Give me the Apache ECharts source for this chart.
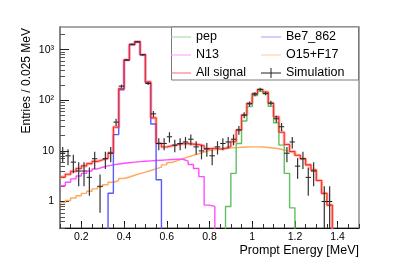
<!DOCTYPE html>
<html><head><meta charset="utf-8">
<script src="https://cdn.jsdelivr.net/npm/echarts@6/dist/echarts.min.js"></script>
<style>html,body{margin:0;padding:0;background:#fff}#c{width:399px;height:269px}</style>
</head><body><div id="c"></div>
<script>
// ---- histogram binning (Prompt Energy, MeV) ----
const binStart = 0.1;
const binWidth = 0.025;

// ---- series values per bin (56 bins from 0.1 to 1.5 MeV), 0 = empty bin ----
const pep = [0,0,0,0,0,0,0,0,0,0, 0,0,0,0,0,0,0,0,0,0, 0,0,0,0,0,0,0,0,0,0,
  0,0.8,3.6,14,39,75,124,151,134,76, 36,13,3.6,0.75,0,0,0,0,0,0, 0,0,0,0,0,0];
const be7 = [0,0,0,0,0,0,0,0,0,1.46, 21,161,621,1251,1431,791,220,34,2.7,0,
  0,0,0,0,0,0,0,0,0,0, 0,0,0,0,0,0,0,0,0,0, 0,0,0,0,0,0,0,0,0,0, 0,0,0,0,0,0];
const n13 = [2.05,2.4,2.8,3.2,3.6,4.0,4.4,4.75,5.05,5.3, 5.5,5.7,5.85,6.0,6.15,6.25,6.35,6.45,6.55,6.65,
  6.75,6.85,6.85,6.3,5.4,4.5,3.1,0.85,0.8,0, 0,0,0,0,0,0,0,0,0,0, 0,0,0,0,0,0,0,0,0,0, 0,0,0,0,0,0];
const o15f17 = [0.95,1.05,1.17,1.3,1.45,1.6,1.78,1.95,2.15,2.4, 2.6,2.85,3.05,3.3,3.55,3.8,4.1,4.4,4.8,5.3,
  5.9,6.4,7.0,7.6,8.2,8.8,9.5,10.1,10.5,10.9, 11.2,11.4,11.6,11.8,11.9,12.0,12.0,11.9,11.7,11.4,
  11.0,10.4,9.8,9.0,8.2,7.0,5.3,4.2,2.6,1.45, 0.85,0,0,0,0,0];
const allSignal = [3.05,3.45,3.95,4.5,5.05,5.6,6.2,6.7,7.25,9.2, 29.5,170,630,1260,1440,800,231,45,14.1,11.95,
  12.65,13.25,13.85,13.9,13.6,13.3,12.6,10.95,11.3,10.9, 11.2,12.2,15.2,25.8,50.9,87,136,163,145.7,87.4,
  47,23.4,13.4,9.75,8.2,7.0,5.3,4.2,2.6,1.45, 0.85,0,0,0,0,0];
// Simulation: entries per bin and their error bars (null = no point)
const simulation = [9,8,6,4,4,3,7,2,7,9, 37,190,620,1280,1420,790,215,54,14,14,
  19,13,14,15,17,12,10,11,8,12, 14,15,17,26,51,85,132,164,137,88,
  43,30,9,15,5,7,3,4,null,1, 1,null,null,null,null,null];
const simErr = [3.0,2.8,2.4,2.0,2.0,1.7,2.6,1.4,2.6,3.0, 6.1,13.8,24.9,35.8,37.7,28.1,14.7,7.3,3.7,3.7,
  4.4,3.6,3.7,3.9,4.1,3.5,3.2,3.3,2.8,3.5, 3.7,3.9,4.1,5.1,7.1,9.2,11.5,12.8,11.7,9.4,
  6.6,5.5,3.0,3.9,2.2,2.6,1.7,2.0,null,1.0, 1.0,null,null,null,null,null];

// ---- axis ticks ----
const xMajorTicks = [0.2,0.4,0.6,0.8,1.0,1.2,1.4];
const xMinorTicks = [0.1,0.15,0.2,0.25,0.3,0.35,0.4,0.45,0.5,0.55,0.6,0.65,0.7,0.75,0.8,0.85,0.9,0.95,
  1.0,1.05,1.1,1.15,1.2,1.25,1.3,1.35,1.4,1.45,1.5];
const yMajorTicks = [1,10,100,1000];
const yMajorLabels = ['1','10','10\u00B2','10\u00B3'];
const yMinorTicks = [0.3,0.4,0.5,0.6,0.7,0.8,0.9,2,3,4,5,6,7,8,9,20,30,40,50,60,70,80,90,
  200,300,400,500,600,700,800,900,2000];

const FONT = '"Liberation Sans", Arial, Helvetica, sans-serif';
const FLOOR = 1e-3; // empty bins are drawn below the frame (clipped), as ROOT does on log axes

function steps(vals){
  const out = vals.map((v,k)=>[binStart + k*binWidth, v>0 ? v : FLOOR]);
  const last = vals[vals.length-1];
  out.push([binStart + vals.length*binWidth, last>0 ? last : FLOOR]);
  return out;
}
function stepSeries(name, vals, color, width, z){
  return {type:'line', name, data: steps(vals), step:'end', showSymbol:false, symbol:'none',
    clip:true, silent:true, z: z||2, lineStyle:{color, width}, itemStyle:{color}};
}
const simData = [];
simulation.forEach((v,k)=>{ if(v!=null && v>0) simData.push([binStart+(k+0.5)*binWidth, v, simErr[k]]); });

const linePath = 'path://M0,0L0.01,0L0,0.01Z M0,5.4H20V6.6H0Z M20,12L19.99,12L20,11.99Z';
const crossPath = 'path://M0,0L0.01,0L0,0.01Z M0,5.5H20V6.5H0Z M9.5,1H10.5V11H9.5Z M20,12L19.99,12L20,11.99Z';

const chart = echarts.init(document.getElementById('c'), null, {renderer:'canvas', width:399, height:269});
chart.setOption({
  animation:false,
  backgroundColor:'#fff',
  textStyle:{fontFamily:FONT},
  grid:{left:60, right:40, top:27, bottom:41, show:true, borderColor:'#8c8c8c', borderWidth:1.5, backgroundColor:'transparent'},
  xAxis:[{
    type:'value', min:0.1, max:1.5, position:'bottom',
    axisLine:{show:true, onZero:false, lineStyle:{color:'#111', width:1}},
    axisTick:{show:true, inside:true, length:7, customValues:xMajorTicks, lineStyle:{color:'#111'}},
    axisLabel:{show:true, customValues:xMajorTicks, margin:4, fontSize:10.5, color:'#000', fontFamily:FONT,
      formatter:(v)=>String(parseFloat(v.toFixed(3)))},
    splitLine:{show:false}
  },{
    type:'value', min:0.1, max:1.5, position:'bottom', offset:0,
    axisLine:{show:false}, axisLabel:{show:false}, splitLine:{show:false},
    axisTick:{show:true, inside:true, length:4, customValues:xMinorTicks, lineStyle:{color:'#333'}}
  }],
  yAxis:[{
    type:'log', logBase:10, min:0.3, max:2800, position:'left',
    axisLine:{show:true, onZero:false, lineStyle:{color:'#7a7a7a', width:1.5}},
    axisTick:{show:true, inside:true, length:9, customValues:yMajorTicks, lineStyle:{color:'#222'}},
    axisLabel:{show:true, customValues:yMajorTicks, margin:6, fontSize:10.5, color:'#000', fontFamily:FONT,
      formatter:(v)=>yMajorLabels[Math.round(Math.log10(v))]},
    splitLine:{show:false}, minorTick:{show:false}
  },{
    type:'log', logBase:10, min:0.3, max:2800, position:'left', offset:0,
    axisLine:{show:false}, axisLabel:{show:false}, splitLine:{show:false},
    axisTick:{show:true, inside:true, length:5, customValues:yMinorTicks, lineStyle:{color:'#555'}}
  }],
  legend:[{
    left:171, top:30.5, orient:'vertical', padding:0, itemGap:5, itemWidth:20, itemHeight:12,
    selectedMode:false, textStyle:{fontSize:12.5, color:'#000', fontFamily:FONT},
    data:[
      {name:'pep', icon:linePath, itemStyle:{color:'#99d699'}},
      {name:'N13', icon:linePath, itemStyle:{color:'#ff99ff'}},
      {name:'All signal', icon:linePath, itemStyle:{color:'#ff6b6b'}}
    ]
  },{
    left:261, top:30.5, orient:'vertical', padding:0, itemGap:5, itemWidth:20, itemHeight:12,
    selectedMode:false, textStyle:{fontSize:12.5, color:'#000', fontFamily:FONT},
    data:[
      {name:'Be7_862', icon:linePath, itemStyle:{color:'#9f9fff'}},
      {name:'O15+F17', icon:linePath, itemStyle:{color:'#ffcc99'}},
      {name:'Simulation', icon:crossPath, itemStyle:{color:'#222'}}
    ]
  }],
  graphic:[
    {type:'rect', z:3, shape:{x:171.5, y:27, width:187, height:53},
      style:{fill:'#fff', stroke:'#7a7a7a', lineWidth:1}},
    {type:'text', x:27, y:28, rotation:Math.PI/2,
      style:{text:'Entries / 0.025 MeV', font:'12px '+FONT, fill:'#000', align:'right', verticalAlign:'middle'}},
    {type:'text', x:359, y:251, 
      style:{text:'Prompt Energy [MeV]', font:'12.5px '+FONT, fill:'#000', align:'right', verticalAlign:'middle'}}
  ],
  series:[
    Object.assign(stepSeries('signal band', allSignal, 'rgba(255,120,120,0.5)', 3.2, 1)),
    stepSeries('O15+F17', o15f17, '#ffa860', 1.4, 2),
    stepSeries('N13', n13, '#ff4dff', 1.4, 2),
    stepSeries('Be7_862', be7, '#5a5aff', 1.4, 2),
    stepSeries('pep', pep, '#5fbf5f', 1.4, 2),
    stepSeries('All signal', allSignal, '#ff2a2a', 1.1, 3),
    {
      type:'custom', name:'Simulation', coordinateSystem:'cartesian2d', clip:true, silent:true, z:4,
      itemStyle:{color:'#222'},
      data: simData,
      encode:{x:0, y:1},
      renderItem:(params, api)=>{
        const xc = api.value(0), v = api.value(1), e = api.value(2);
        const a = api.coord([xc - binWidth/2, v]);
        const b = api.coord([xc + binWidth/2, v]);
        const t = api.coord([xc, v + e]);
        const lowV = v - e > 0 ? v - e : FLOOR;
        const u = api.coord([xc, lowV]);
        return {type:'group', children:[
          {type:'line', shape:{x1:a[0], y1:a[1], x2:b[0], y2:b[1]}, style:{stroke:'#1a1a1a', lineWidth:1}},
          {type:'line', shape:{x1:t[0], y1:t[1], x2:u[0], y2:u[1]}, style:{stroke:'#333', lineWidth:1.2}}
        ]};
      }
    }
  ]
});
</script></body></html>
